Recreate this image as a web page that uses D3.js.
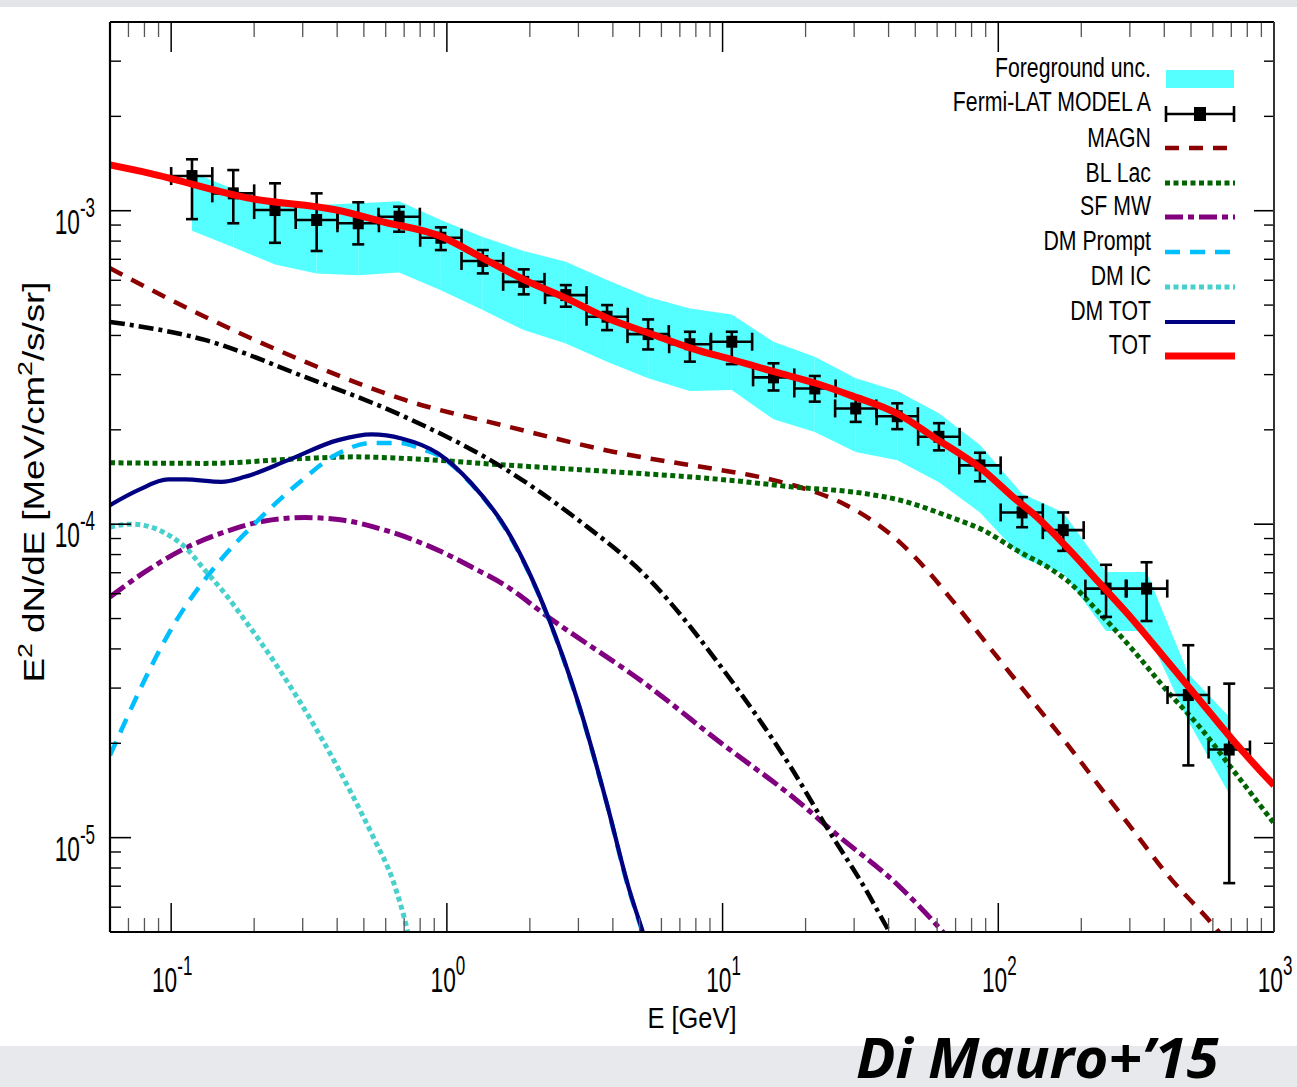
<!DOCTYPE html>
<html>
<head>
<meta charset="utf-8">
<script src="https://cdn.jsdelivr.net/npm/d3@7"></script>
<style>
  html, body { margin: 0; padding: 0; background: #ffffff; }
  svg { display: block; }
  text { font-family: "Liberation Sans", Arial, Helvetica, sans-serif; fill: #000; }
</style>
</head>
<body>
<svg id="chart" width="1297" height="1087"></svg>
<script>
// ---------------- data ----------------
// Fermi-LAT (model A) spectrum: bin centres, bin edges [GeV], E^2 dN/dE and error bounds
const dataE  = [0.119, 0.168, 0.238, 0.337, 0.477, 0.671, 0.951, 1.35, 1.90, 2.70, 3.81, 5.37, 7.61, 10.8, 15.3, 21.6, 30.4, 43.0, 60.9, 85.8, 122, 172, 246, 345, 489, 688];
const binLo  = [0.100, 0.141, 0.200, 0.283, 0.401, 0.565, 0.800, 1.13, 1.60, 2.27, 3.21, 4.52, 6.40, 9.08, 12.9, 18.2, 25.6, 36.2, 51.2, 72.2, 102, 145, 207, 290, 411, 579];
const binHi  = [0.141, 0.200, 0.283, 0.401, 0.567, 0.798, 1.13, 1.60, 2.26, 3.21, 4.53, 6.38, 9.05, 12.8, 18.2, 25.7, 36.1, 51.1, 72.4, 102, 145, 204, 292, 410, 581, 818];
const dataF  = [1.29e-3, 1.136e-3, 1.005e-3, 9.34e-4, 9.12e-4, 9.57e-4, 8.20e-4, 6.91e-4, 5.93e-4, 5.38e-4, 4.59e-4, 4.04e-4, 3.75e-4, 3.82e-4, 2.94e-4, 2.71e-4, 2.34e-4, 2.21e-4, 1.90e-4, 1.54e-4, 1.09e-4, 9.57e-5, 6.23e-5, 6.23e-5, 2.85e-5, 1.91e-5];
const dataHi = [1.459e-3, 1.348e-3, 1.223e-3, 1.136e-3, 1.064e-3, 1.030e-3, 8.85e-4, 7.49e-4, 6.50e-4, 5.79e-4, 5.00e-4, 4.50e-4, 4.11e-4, 4.11e-4, 3.26e-4, 2.97e-4, 2.55e-4, 2.43e-4, 2.10e-4, 1.69e-4, 1.22e-4, 1.09e-4, 7.42e-5, 7.56e-5, 4.11e-5, 3.10e-5];
const dataLo = [9.40e-4, 9.12e-4, 7.90e-4, 7.44e-4, 7.81e-4, 8.57e-4, 7.49e-4, 6.31e-4, 5.41e-4, 4.94e-4, 4.16e-4, 3.61e-4, 3.30e-4, 3.24e-4, 2.67e-4, 2.46e-4, 2.12e-4, 2.01e-4, 1.72e-4, 1.37e-4, 9.78e-5, 8.22e-5, 5.06e-5, 4.91e-5, 1.70e-5, 7.16e-6];

// foreground uncertainty band (upper / lower edge at each bin centre)
const bandHi = [1.326e-3, 1.173e-3, 1.056e-3, 1.043e-3, 1.056e-3, 1.072e-3, 9.34e-4, 8.24e-4, 7.44e-4, 6.88e-4, 6.01e-4, 5.31e-4, 4.88e-4, 4.67e-4, 3.82e-4, 3.42e-4, 2.92e-4, 2.66e-4, 2.26e-4, 1.79e-4, 1.25e-4, 1.09e-4, 7.04e-5, 7.04e-5, 3.33e-5, 2.43e-5];
const bandLo = [8.63e-4, 7.64e-4, 6.74e-4, 6.31e-4, 6.23e-4, 6.35e-4, 5.58e-4, 4.82e-4, 4.16e-4, 3.77e-4, 3.30e-4, 2.92e-4, 2.66e-4, 2.68e-4, 2.16e-4, 1.97e-4, 1.70e-4, 1.60e-4, 1.36e-4, 1.09e-4, 7.82e-5, 6.96e-5, 4.56e-5, 4.56e-5, 2.35e-5, 1.38e-5];

// model components
const magnE = [0.06, 0.1325, 0.3054, 0.7041, 1.623, 4.045, 9.893, 12.56, 17.97, 21.93, 28.10, 33.30, 43.97, 56.48, 68.79, 101.3, 133.8, 176.9, 233.6, 308.6, 407.8, 633.4, 720];
const magnV = [6.55e-4, 4.59e-4, 3.30e-4, 2.49e-4, 2.06e-4, 1.70e-4, 1.487e-4, 1.435e-4, 1.332e-4, 1.262e-4, 1.150e-4, 1.055e-4, 8.75e-5, 6.96e-5, 5.65e-5, 3.68e-5, 2.71e-5, 2.00e-5, 1.451e-5, 1.055e-5, 7.67e-6, 4.98e-6, 4.3e-6];

const bllacE = [0.06, 0.1325, 0.3054, 0.4637, 0.7041, 1.652, 4.045, 9.893, 17.97, 32.63, 43.97, 66.76, 88.13, 116.5, 153.9, 176.9, 233.6, 308.6, 407.8, 538.7, 711.2, 1000];
const bllacV = [1.570e-4, 1.563e-4, 1.621e-4, 1.640e-4, 1.621e-4, 1.543e-4, 1.469e-4, 1.389e-4, 1.315e-4, 1.253e-4, 1.193e-4, 1.055e-4, 9.57e-5, 8.26e-5, 7.22e-5, 6.63e-5, 5.19e-5, 3.96e-5, 2.95e-5, 2.25e-5, 1.64e-5, 1.111e-5];

const sfmwE = [0.06, 0.0803, 0.1121, 0.1566, 0.2187, 0.3054, 0.4034, 0.5957, 0.9299, 1.226, 1.623, 2.329, 5.449, 9.893, 17.97, 25.70, 43.97, 62.91, 72.6];
const sfmwV = [5.86e-5, 7.04e-5, 8.37e-5, 9.45e-5, 1.024e-4, 1.050e-4, 1.035e-4, 9.57e-5, 8.26e-5, 7.31e-5, 6.39e-5, 5.06e-5, 3.02e-5, 2.00e-5, 1.348e-5, 1.030e-5, 6.96e-6, 5.00e-6, 4.3e-6];

const otherE = [0.06, 0.1325, 0.3054, 0.7041, 1.652, 3.001, 5.449, 9.893, 17.97, 24.23, 32.63, 39.99, 43.97];
const otherV = [4.42e-4, 3.87e-4, 2.95e-4, 2.20e-4, 1.487e-4, 1.030e-4, 6.63e-5, 3.50e-5, 1.64e-5, 1.055e-5, 6.96e-6, 5.06e-6, 4.37e-6];

const promptE = [0.06, 0.1046, 0.1441, 0.2012, 0.2887, 0.4034, 0.5332, 0.6658, 0.8323, 0.9299, 1.229, 1.652, 2.329, 3.001, 3.804, 4.557, 5.135, 5.449];
const promptV = [1.83e-5, 4.94e-5, 7.31e-5, 1.005e-4, 1.348e-4, 1.681e-4, 1.817e-4, 1.817e-4, 1.722e-4, 1.66e-4, 1.34e-4, 9.5e-5, 5.03e-5, 2.66e-5, 1.28e-5, 6.9e-6, 4.97e-6, 4.2e-6];

const icE = [0.06, 0.0718, 0.0873, 0.1003, 0.1121, 0.1325, 0.1566, 0.185, 0.2478, 0.3462, 0.4446, 0.548, 0.6368, 0.7221, 0.7464];
const icV = [9.80e-5, 1.000e-4, 9.69e-5, 9.11e-5, 8.46e-5, 7.13e-5, 6.01e-5, 4.94e-5, 3.42e-5, 2.12e-5, 1.416e-5, 9.80e-6, 7.31e-6, 4.98e-6, 4.37e-6];

const dmtotE = [0.06, 0.0759, 0.0975, 0.1121, 0.1523, 0.185, 0.2657, 0.4034, 0.5332, 0.6849, 0.9299, 1.229, 1.652, 2.329, 3.001, 3.804, 4.557, 5.135, 5.449];
const dmtotV = [1.150e-4, 1.284e-4, 1.389e-4, 1.389e-4, 1.365e-4, 1.416e-4, 1.601e-4, 1.854e-4, 1.933e-4, 1.877e-4, 1.681e-4, 1.348e-4, 9.57e-5, 5.06e-5, 2.68e-5, 1.284e-5, 6.96e-6, 5.00e-6, 4.24e-6];

const totE = [0.06, 0.0837, 0.193, 0.398, 0.587, 0.957, 1.354, 1.918, 2.718, 3.846, 5.449, 7.72, 10.93, 15.48, 21.93, 28.96, 43.97, 58.06, 88.13, 116.5, 133.8, 176.9, 233.6, 308.6, 407.8, 538.7, 711.2, 888.9, 1000];
const totV = [1.399e-3, 1.316e-3, 1.095e-3, 1.005e-3, 9.22e-4, 8.26e-4, 7.05e-4, 6.01e-4, 5.25e-4, 4.53e-4, 4.06e-4, 3.64e-4, 3.34e-4, 3.06e-4, 2.81e-4, 2.58e-4, 2.23e-4, 1.90e-4, 1.487e-4, 1.193e-4, 1.081e-4, 8.46e-5, 6.47e-5, 4.94e-5, 3.68e-5, 2.74e-5, 2.04e-5, 1.64e-5, 1.469e-5];

// axis tick labels
const xMajor = [0.1, 1, 10, 100, 1000];
const xExp   = ["-1", "0", "1", "2", "3"];
const yMajor = [1e-5, 1e-4, 1e-3];
const yExp   = ["-5", "-4", "-3"];

const legendNames = ["Foreground unc.", "Fermi-LAT MODEL A", "MAGN", "BL Lac", "SF MW", "DM Prompt", "DM IC", "DM TOT", "TOT"];

// ---------------- layout ----------------
const W = 1297, H = 1087;
const P = { left: 110, right: 1274, top: 22, bottom: 932 };

const x = d3.scaleLog().domain([0.06, 1000]).range([P.left, P.right]);
const y = d3.scaleLog().domain([5e-6, 4e-3]).range([P.bottom, P.top]);

const svg = d3.select("#chart");

// page strips
svg.append("rect").attr("x", 0).attr("y", 0).attr("width", W).attr("height", 7).attr("fill", "#e3e5e8");
svg.append("rect").attr("x", 0).attr("y", 1046).attr("width", W).attr("height", H - 1046).attr("fill", "#e7e9ec");

svg.append("defs").append("clipPath").attr("id", "plotArea")
  .append("rect").attr("x", P.left).attr("y", P.top)
  .attr("width", P.right - P.left).attr("height", P.bottom - P.top);

const plot = svg.append("g").attr("clip-path", "url(#plotArea)");

// foreground band, one quad per bin interval
const bandColor = "#55ffff";
for (let i = 0; i < dataE.length - 1; i++) {
  const q = [[dataE[i], bandHi[i]], [dataE[i + 1], bandHi[i + 1]], [dataE[i + 1], bandLo[i + 1]], [dataE[i], bandLo[i]]];
  plot.append("path")
    .attr("d", "M" + q.map(p => x(p[0]) + "," + y(p[1])).join("L") + "Z")
    .attr("fill", bandColor);
}

// component curves
const line = d3.line().x(d => x(d[0])).y(d => y(d[1])).curve(d3.curveMonotoneX);
const zip = (a, b) => a.map((v, i) => [v, b[i]]);

const styles = {
  MAGN:   { color: "#8b0000", width: 4.5, dash: "14,10" },
  BLLac:  { color: "#006400", width: 5,   dash: "5,3.5" },
  SFMW:   { color: "#800080", width: 5,   dash: "18,5,6,5" },
  other:  { color: "#000000", width: 4.5, dash: "15,5,4,5" },
  Prompt: { color: "#00bfff", width: 4.5, dash: "15,10" },
  IC:     { color: "#48d1cc", width: 5,   dash: "5,3.5" },
  DMTOT:  { color: "#000080", width: 4.2, dash: null },
  TOT:    { color: "#ff0000", width: 7,   dash: null }
};

function drawCurve(g, pts, st) {
  g.append("path").attr("d", line(pts))
    .attr("fill", "none")
    .attr("stroke", st.color)
    .attr("stroke-width", st.width)
    .attr("stroke-dasharray", st.dash)
    .attr("stroke-linejoin", "round");
}

drawCurve(plot, zip(magnE, magnV), styles.MAGN);
drawCurve(plot, zip(bllacE, bllacV), styles.BLLac);
drawCurve(plot, zip(sfmwE, sfmwV), styles.SFMW);
drawCurve(plot, zip(otherE, otherV), styles.other);
drawCurve(plot, zip(promptE, promptV), styles.Prompt);
drawCurve(plot, zip(icE, icV), styles.IC);
drawCurve(plot, zip(dmtotE, dmtotV), styles.DMTOT);

// data points with error bars
const pts = plot.append("g").attr("stroke", "#000").attr("stroke-width", 2.6);
dataE.forEach((e, i) => {
  const cx = x(e), cy = y(dataF[i]);
  const x0 = x(binLo[i]), x1 = x(binHi[i]);
  const yh = y(dataHi[i]), yl = y(dataLo[i]);
  pts.append("line").attr("x1", x0).attr("x2", x1).attr("y1", cy).attr("y2", cy);
  pts.append("line").attr("x1", x0).attr("x2", x0).attr("y1", cy - 9).attr("y2", cy + 9);
  pts.append("line").attr("x1", x1).attr("x2", x1).attr("y1", cy - 9).attr("y2", cy + 9);
  pts.append("line").attr("x1", cx).attr("x2", cx).attr("y1", yh).attr("y2", yl);
  pts.append("line").attr("x1", cx - 6).attr("x2", cx + 6).attr("y1", yh).attr("y2", yh);
  pts.append("line").attr("x1", cx - 6).attr("x2", cx + 6).attr("y1", yl).attr("y2", yl);
  pts.append("rect").attr("x", cx - 5.5).attr("y", cy - 6).attr("width", 11).attr("height", 12)
    .attr("fill", "#000").attr("stroke", "none");
});

drawCurve(plot, zip(totE, totV), styles.TOT);

// ---------------- frame and ticks ----------------
const axes = svg.append("g");
const isMajor = v => Math.abs(Math.log10(v) - Math.round(Math.log10(v))) < 1e-9;

x.ticks().forEach(v => {
  const px = x(v);
  if (px <= P.left + 0.5 || px >= P.right - 0.5) return;
  const maj = isMajor(v);
  axes.append("line").attr("x1", px).attr("x2", px)
    .attr("y1", P.bottom).attr("y2", P.bottom - (maj ? 29 : 14))
    .attr("stroke", maj ? "#000" : "#555").attr("stroke-width", maj ? 1.5 : 1.3);
  axes.append("line").attr("x1", px).attr("x2", px)
    .attr("y1", P.top).attr("y2", P.top + (maj ? 30 : 15))
    .attr("stroke", maj ? "#000" : "#555").attr("stroke-width", maj ? 1.5 : 1.3);
});
y.ticks().forEach(v => {
  const py = y(v);
  if (py <= P.top + 0.5 || py >= P.bottom - 0.5) return;
  const maj = isMajor(v);
  axes.append("line").attr("x1", P.left).attr("x2", P.left + (maj ? 21 : 11))
    .attr("y1", py).attr("y2", py)
    .attr("stroke", "#000").attr("stroke-width", maj ? 1.6 : 1.4);
  axes.append("line").attr("x1", P.right).attr("x2", P.right - (maj ? 20 : 10))
    .attr("y1", py).attr("y2", py)
    .attr("stroke", "#000").attr("stroke-width", maj ? 1.6 : 1.4);
});

axes.append("line").attr("x1", P.left).attr("x2", P.right).attr("y1", P.bottom).attr("y2", P.bottom)
  .attr("stroke", "#000").attr("stroke-width", 2.2);
axes.append("line").attr("x1", P.left).attr("x2", P.right).attr("y1", P.top).attr("y2", P.top)
  .attr("stroke", "#000").attr("stroke-width", 2.2);
axes.append("line").attr("x1", P.left).attr("x2", P.left).attr("y1", P.top).attr("y2", P.bottom)
  .attr("stroke", "#000").attr("stroke-width", 2.2);
axes.append("line").attr("x1", P.right).attr("x2", P.right).attr("y1", P.top).attr("y2", P.bottom)
  .attr("stroke", "#333").attr("stroke-width", 2);

// power-of-ten labels: "10" with a raised exponent, horizontally condensed
const tickFont = 36, expFont = 27, tickSX = 0.63;
function powerLabel(g, px, py, exp, anchor) {
  const t = g.append("text")
    .attr("transform", `translate(${px},${py}) scale(${tickSX},1)`)
    .attr("text-anchor", anchor)
    .style("font-size", tickFont + "px");
  t.append("tspan").text("10");
  t.append("tspan").attr("dy", -17).style("font-size", expFont + "px").text(exp);
  return t;
}
xMajor.forEach((v, i) => powerLabel(svg, x(v) + 1, 992, xExp[i], "middle"));
yMajor.forEach((v, i) => powerLabel(svg, 95, y(v) + 23, yExp[i], "end"));

// axis titles
const xt = svg.append("text").attr("text-anchor", "middle").style("font-size", "30px").text("E [GeV]");
{
  const w = xt.node().getBBox().width;
  xt.attr("transform", `translate(692,1028) scale(${89 / w},1)`);
}
const yt = svg.append("text").attr("text-anchor", "middle").style("font-size", "29px");
yt.append("tspan").text("E");
yt.append("tspan").attr("dy", -12).style("font-size", "21px").text("2");
yt.append("tspan").attr("dy", 12).text(" dN/dE [MeV/cm");
yt.append("tspan").attr("dy", -12).style("font-size", "21px").text("2");
yt.append("tspan").attr("dy", 12).text("/s/sr]");
{
  const w = yt.node().getBBox().width;
  yt.attr("transform", `translate(44,482) rotate(-90) scale(${401 / w},1)`);
}

// ---------------- legend ----------------
const leg = svg.append("g");
const legX0 = 1166, legX1 = 1234, legText = 1151;
const rowBase = [77, 111, 147, 182, 215, 250, 285, 320, 354];
const rowMid  = [79, 114, 148, 183, 217, 252, 287, 322, 356];
legendNames.forEach((name, i) => {
  leg.append("text")
    .attr("transform", `translate(${legText},${rowBase[i]}) scale(0.76,1)`)
    .attr("text-anchor", "end")
    .style("font-size", "28px")
    .text(name);
});
leg.append("rect").attr("x", legX0).attr("y", 70).attr("width", legX1 - legX0).attr("height", 18).attr("fill", bandColor);
{
  const my = rowMid[1];
  const lg = leg.append("g").attr("stroke", "#000").attr("stroke-width", 2.6);
  lg.append("line").attr("x1", legX0).attr("x2", legX1).attr("y1", my).attr("y2", my);
  lg.append("line").attr("x1", legX0).attr("x2", legX0).attr("y1", my - 8).attr("y2", my + 8);
  lg.append("line").attr("x1", legX1).attr("x2", legX1).attr("y1", my - 8).attr("y2", my + 8);
  leg.append("rect").attr("x", (legX0 + legX1) / 2 - 6).attr("y", my - 7).attr("width", 12).attr("height", 14).attr("fill", "#000");
}
const legStyles = [styles.MAGN, styles.BLLac, styles.SFMW, styles.Prompt, styles.IC, styles.DMTOT, styles.TOT];
legStyles.forEach((st, k) => {
  const my = rowMid[k + 2];
  leg.append("line").attr("x1", legX0 - 1).attr("x2", legX1 + 1).attr("y1", my).attr("y2", my)
    .attr("stroke", st.color).attr("stroke-width", st.width).attr("stroke-dasharray", st.dash);
});

// ---------------- credit ----------------
const credit = svg.append("text")
  .attr("text-anchor", "start")
  .style("font-family", "'Open Sans', 'Noto Sans', sans-serif")
  .style("font-weight", "700").style("font-style", "italic")
  .style("font-size", "56px")
  .text("Di Mauro+\u201915");
{
  const w = credit.node().getBBox().width;
  credit.attr("transform", `translate(856,1078) scale(${363 / w},1)`);
}
</script>
</body>
</html>
